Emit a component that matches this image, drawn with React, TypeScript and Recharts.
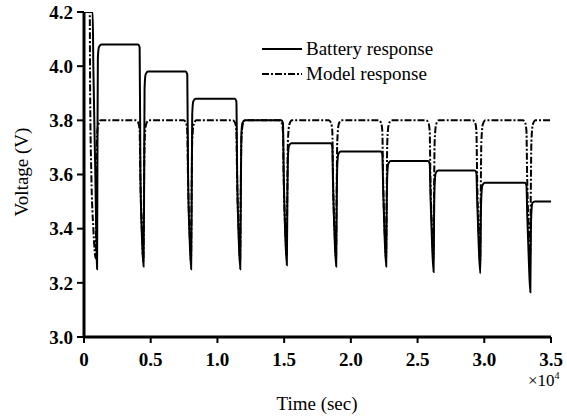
import React from 'react';
import { LineChart, Line, XAxis, YAxis, Legend } from 'recharts';

const SERIF = "'Liberation Serif', 'DejaVu Serif', serif";

// x ticks in seconds, labels shown in units of 1e4 s
const xTicks = [0, 5000, 10000, 15000, 20000, 25000, 30000, 35000];
const xTickLabels = ['0', '0.5', '1.0', '1.5', '2.0', '2.5', '3.0', '3.5'];
const yTicks = [3.0, 3.2, 3.4, 3.6, 3.8, 4.0, 4.2];

// [time (s), voltage (V)]
const batteryPoints: [number, number][] = [
  [0, 4.2], [650, 4.2], [700, 4.0], [850, 3.6], [950, 3.3], [980, 3.25], [1010, 3.7], [1040, 4.03], [1120, 4.07], [1300, 4.08],
  [4050, 4.08], [4170, 4.07], [4230, 3.6], [4350, 3.36], [4460, 3.26], [4500, 3.5], [4540, 3.92], [4620, 3.97], [4800, 3.98],
  [7620, 3.98], [7740, 3.97], [7800, 3.6], [7920, 3.36], [8030, 3.25], [8070, 3.5], [8110, 3.82], [8190, 3.87], [8370, 3.88],
  [11300, 3.88], [11420, 3.87], [11480, 3.6], [11600, 3.36], [11710, 3.25], [11750, 3.5], [11790, 3.74], [11870, 3.79], [12050, 3.8],
  [14790, 3.8], [14910, 3.79], [14970, 3.6], [15090, 3.37], [15200, 3.265], [15240, 3.5], [15280, 3.66], [15360, 3.705], [15540, 3.715],
  [18490, 3.715], [18610, 3.705], [18670, 3.55], [18790, 3.36], [18900, 3.26], [18940, 3.5], [18980, 3.63], [19060, 3.675], [19240, 3.685],
  [22240, 3.685], [22360, 3.675], [22420, 3.55], [22540, 3.36], [22650, 3.26], [22690, 3.48], [22730, 3.6], [22810, 3.64], [22990, 3.65],
  [25790, 3.65], [25910, 3.64], [25970, 3.52], [26090, 3.34], [26200, 3.24], [26240, 3.46], [26280, 3.565], [26360, 3.605], [26540, 3.615],
  [29290, 3.615], [29410, 3.605], [29470, 3.5], [29590, 3.33], [29700, 3.235], [29740, 3.44], [29780, 3.52], [29860, 3.56], [30040, 3.57],
  [33040, 3.57], [33160, 3.56], [33220, 3.45], [33340, 3.28], [33450, 3.165], [33490, 3.38], [33530, 3.46], [33610, 3.495], [33790, 3.5], [35000, 3.5],
];

const modelPoints: [number, number][] = [
  [0, 4.2], [430, 4.2], [460, 3.9], [550, 3.6], [700, 3.4], [880, 3.29], [920, 3.5], [960, 3.72], [1050, 3.78], [1250, 3.8],
  [3900, 3.8], [4080, 3.79], [4170, 3.76], [4220, 3.6], [4350, 3.38], [4450, 3.28], [4490, 3.5], [4540, 3.72], [4650, 3.785], [4850, 3.8],
  [7470, 3.8], [7650, 3.79], [7740, 3.76], [7790, 3.6], [7920, 3.38], [8020, 3.28], [8060, 3.5], [8110, 3.72], [8220, 3.785], [8420, 3.8],
  [11150, 3.8], [11330, 3.79], [11420, 3.76], [11470, 3.6], [11600, 3.38], [11700, 3.28], [11740, 3.5], [11790, 3.72], [11900, 3.785], [12100, 3.8],
  [14640, 3.8], [14820, 3.79], [14910, 3.76], [14960, 3.6], [15090, 3.39], [15190, 3.3], [15230, 3.5], [15280, 3.72], [15390, 3.785], [15590, 3.8],
  [18340, 3.8], [18520, 3.79], [18610, 3.76], [18660, 3.6], [18790, 3.38], [18890, 3.29], [18930, 3.5], [18980, 3.72], [19090, 3.785], [19290, 3.8],
  [22090, 3.8], [22270, 3.79], [22360, 3.76], [22410, 3.6], [22540, 3.38], [22640, 3.29], [22680, 3.5], [22730, 3.72], [22840, 3.785], [23040, 3.8],
  [25640, 3.8], [25820, 3.79], [25910, 3.76], [25960, 3.6], [26090, 3.38], [26190, 3.29], [26230, 3.5], [26280, 3.72], [26390, 3.785], [26590, 3.8],
  [29140, 3.8], [29320, 3.79], [29410, 3.76], [29460, 3.6], [29590, 3.38], [29690, 3.28], [29730, 3.5], [29780, 3.72], [29890, 3.785], [30090, 3.8],
  [32890, 3.8], [33070, 3.79], [33160, 3.76], [33210, 3.6], [33340, 3.39], [33440, 3.3], [33480, 3.5], [33530, 3.72], [33640, 3.785], [33840, 3.8], [35000, 3.8],
];

const seriesNames = ['Battery response', 'Model response'];
const seriesDash = [undefined, '7 2 2 2'];

const toRows = (pts: [number, number][]) => pts.map(([t, v]) => ({ t, v }));

const renderLegend = () => (
  <div style={{ fontFamily: SERIF, fontSize: 19, color: '#000' }}>
    {seriesNames.map((name, i) => (
      <div key={name} style={{ display: 'flex', alignItems: 'center', height: 25 }}>
        <svg width={40} height={10}>
          <line x1={0} y1={5} x2={40} y2={5} stroke="#000" strokeWidth={2} strokeDasharray={seriesDash[i]} />
        </svg>
        <span style={{ marginLeft: 4, whiteSpace: 'nowrap' }}>{name}</span>
      </div>
    ))}
  </div>
);

const App: React.FC = () => {
  const tickStyle = { fill: '#000', fontSize: 19, fontWeight: 'bold' as const, fontFamily: SERIF, style: { fontFamily: SERIF } };
  return (
    <div style={{ position: 'absolute', left: 0, top: 0, width: 567, height: 416, background: '#fff', fontFamily: SERIF }}>
      <LineChart width={567} height={416} margin={{ top: 12, right: 16, bottom: 38, left: 0 }} style={{ fontFamily: SERIF }}>
        <XAxis
          dataKey="t"
          type="number"
          domain={[0, 35000]}
          ticks={xTicks}
          allowDataOverflow
          tickFormatter={(v: number) => xTickLabels[xTicks.indexOf(v)]}
          tick={tickStyle}
          tickSize={6}
          tickMargin={10}
          height={41}
          axisLine={{ stroke: '#000', strokeWidth: 3 }}
          tickLine={{ stroke: '#000', strokeWidth: 2 }}
        />
        <YAxis
          type="number"
          domain={[3.0, 4.2]}
          ticks={yTicks}
          allowDataOverflow
          tickFormatter={(v: number) => v.toFixed(1)}
          tick={tickStyle}
          tickSize={7}
          tickMargin={4}
          width={84}
          axisLine={{ stroke: '#000', strokeWidth: 3 }}
          tickLine={{ stroke: '#000', strokeWidth: 2 }}
        />
        <Legend
          layout="vertical"
          align="center"
          verticalAlign="middle"
          content={renderLegend}
          wrapperStyle={{ left: 262, top: 36, width: 240 }}
        />
        <Line
          data={toRows(batteryPoints)}
          dataKey="v"
          name={seriesNames[0]}
          type="monotone"
          stroke="#000"
          strokeWidth={2}
          dot={false}
          isAnimationActive={false}
        />
        <Line
          data={toRows(modelPoints)}
          dataKey="v"
          name={seriesNames[1]}
          type="monotone"
          stroke="#000"
          strokeWidth={2}
          strokeDasharray={seriesDash[1]}
          dot={false}
          isAnimationActive={false}
        />
      </LineChart>
      <div
        style={{
          position: 'absolute', left: 22, top: 172, transform: 'translate(-50%, -50%) rotate(-90deg)',
          fontSize: 19, whiteSpace: 'nowrap', color: '#000',
        }}
      >
        Voltage (V)
      </div>
      <div
        style={{
          position: 'absolute', left: 317, top: 404, transform: 'translate(-50%, -50%)',
          fontSize: 19, whiteSpace: 'nowrap', color: '#000',
        }}
      >
        Time (sec)
      </div>
      <div
        style={{
          position: 'absolute', left: 528, top: 370,
          fontSize: 17, whiteSpace: 'nowrap', color: '#000',
        }}
      >
        ×10<sup style={{ fontSize: 10 }}>4</sup>
      </div>
    </div>
  );
};

export default App;
